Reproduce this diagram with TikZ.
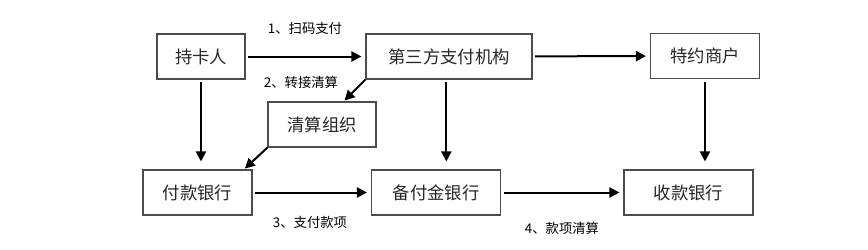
\documentclass[tikz,border=0pt]{standalone}
\usepackage{fontspec}
\newfontfamily\cjk{Noto Sans CJK SC}
\usetikzlibrary{arrows.meta}

\begin{document}
\begin{tikzpicture}[
  x=0.75pt, y=-0.75pt, font=\cjk\fontsize{13}{15}\selectfont,
  pbox/.style={draw=black!70, line width=0.8pt, fill=white, minimum height=33.75pt,
               inner sep=0pt, text=black!85},
  parr/.style={-{Triangle[length=7.5pt,width=7.5pt]}, line width=1.5pt, draw=black,
               shorten >=3pt, shorten <=2pt},
  plab/.style={font=\cjk\fontsize{10}{12}\selectfont, inner sep=1pt},
]
  \useasboundingbox (0,0) rectangle (868,250);
  % top row
  \node[pbox, minimum width=66pt] (chk) at (201,56.5) {持卡人};
  \node[pbox, minimum width=124.5pt] (dsf) at (449,56.5) {第三方支付机构};
  \node[pbox, minimum width=81.75pt] (ty) at (705,56) {特约商户};
  % clearing
  \node[pbox, minimum width=81pt] (qs) at (322,124.5) {清算组织};
  % banks
  \node[pbox, minimum width=81.75pt] (fk) at (197.5,192.5) {付款银行};
  \node[pbox, minimum width=96.75pt] (bfj) at (436,192.5) {备付金银行};
  \node[pbox, minimum width=96.75pt] (sk) at (688.5,192.5) {收款银行};
  % labels
  \node[plab] (l1) at (305,28) {1、扫码支付};
  \node[plab] (l2) at (301,82) {2、转接清算};
  \node[plab] (l3) at (310,222) {3、支付款项};
  \node[plab] (l4) at (562,228) {4、款项清算};
  % arrows
  \draw[parr] (chk) -- (dsf);
  \draw[parr] (dsf) -- (ty);
  \draw[parr, shorten <=0pt, shorten >=1pt] (dsf.south west) -- ([xshift=-24.75pt]qs.north east);
  \draw[parr, shorten <=0pt, shorten >=1pt] (qs.south west) -- ([xshift=-6.5pt]fk.north east);
  \draw[parr, shorten >=6pt] (chk.south) -- (chk.south |- fk.north);
  \draw[parr, shorten >=6pt] ([xshift=-2pt]dsf.south) -- ([xshift=-2pt]dsf.south |- bfj.north);
  \draw[parr, shorten >=6pt] (ty.south) -- (ty.south |- sk.north);
  \draw[parr] (fk) -- (bfj);
  \draw[parr] (bfj) -- (sk);
\end{tikzpicture}
\end{document}
